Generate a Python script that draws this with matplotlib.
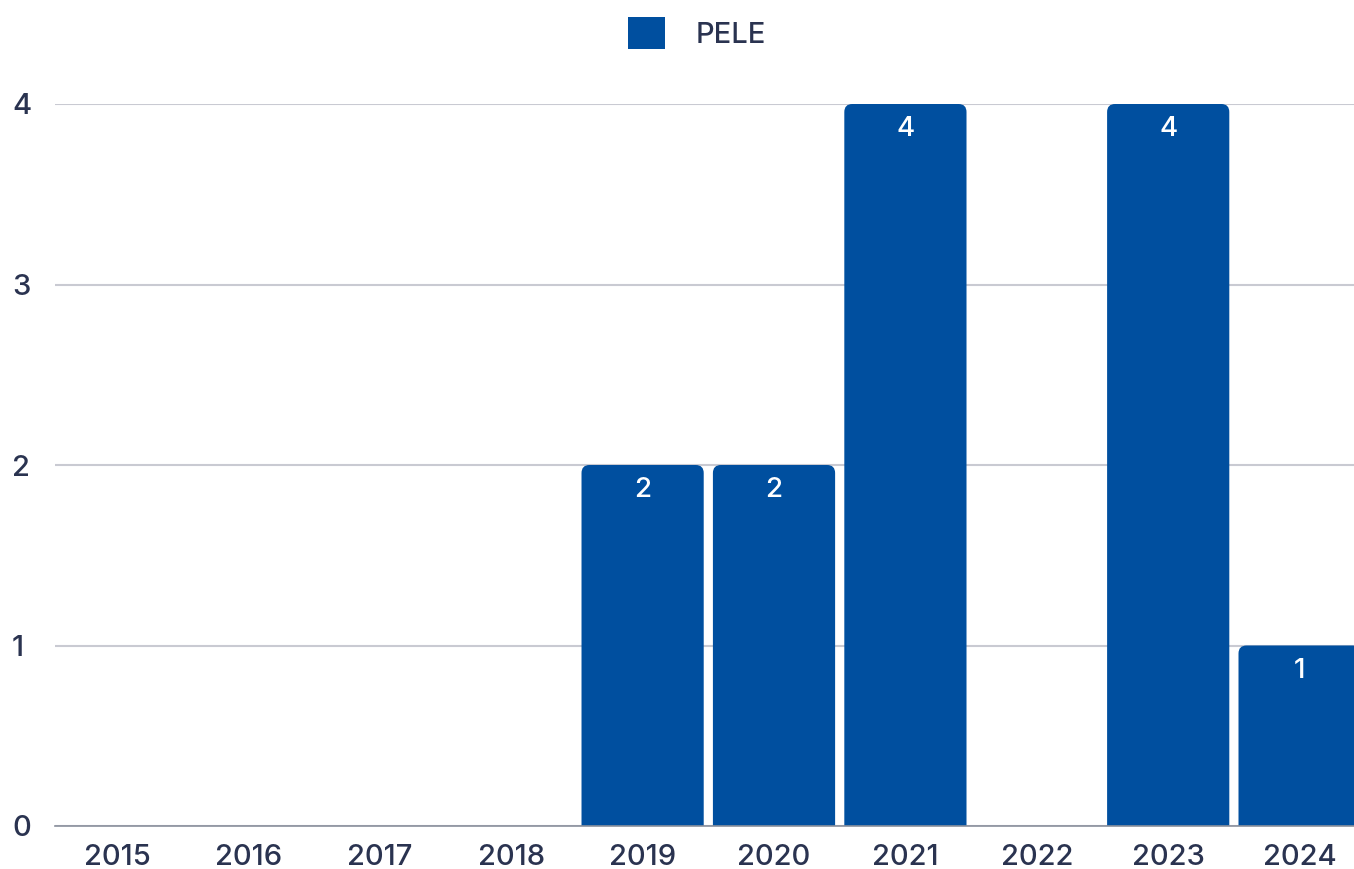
import matplotlib.pyplot as plt
from matplotlib.patches import FancyBboxPatch
import numpy as np

years = ['2015', '2016', '2017', '2018', '2019', '2020', '2021', '2022', '2023', '2024']
pele = [0, 0, 0, 0, 2, 2, 4, 0, 4, 1]
series_name = 'PELE'

bar_color = '#004f9f'
text_color = '#2a3350'
plt.rcParams['font.family'] = ['Inter', 'DejaVu Sans']

W, H = 1354, 869
fig = plt.figure(figsize=(W / 100, H / 100), dpi=100)
ax = fig.add_axes([55 / W, 43 / H, (W - 55) / W, (826 - 104) / H])

x = np.arange(len(years))
bars = ax.bar(x, pele, width=0.93, color=bar_color)

ax.set_xlim(-0.472, 9.414)
ax.set_ylim(0, 4)

# swap the plain rectangles for rounded-top ones
px_x = (W - 55) / (9.414 + 0.472)
px_y = (826 - 104) / 4
r = 8
for rect, v in zip(bars.patches, pele):
    rect.set_visible(False)
    if v <= 0:
        continue
    x0, w = rect.get_x(), rect.get_width()
    p = FancyBboxPatch((x0, -0.2), w, v + 0.2,
                       boxstyle=f"round,pad=0,rounding_size={r / px_x}",
                       mutation_aspect=(r / px_y) / (r / px_x),
                       facecolor=bar_color, edgecolor='none', zorder=3)
    ax.add_patch(p)
    ax.text(x0 + w / 2, v - 25 / px_y, str(v), color='white', fontsize=20,
            fontweight='medium', ha='center', va='center', zorder=4)

ax.set_yticks([0, 1, 2, 3, 4])
ax.grid(axis='y', color='#c9cad2', lw=1.5, zorder=0)
ax.set_axisbelow(True)
for s in ['top', 'right', 'left']:
    ax.spines[s].set_visible(False)
ax.spines['bottom'].set_color('#8a909c')
ax.spines['bottom'].set_linewidth(1.2)
ax.spines['bottom'].set_zorder(5)

ax.set_xticks(x)
ax.set_xticklabels(years)
ax.tick_params(axis='x', length=0, pad=13, labelsize=21, labelcolor=text_color)
ax.tick_params(axis='y', length=0, pad=0, labelsize=21, labelcolor=text_color)
for lbl in ax.get_xticklabels() + ax.get_yticklabels():
    lbl.set_fontweight('medium')
for lbl in ax.get_yticklabels():
    lbl.set_horizontalalignment('left')
    lbl.set_x(-43 / (W - 55))

leg = fig.legend([plt.Rectangle((0, 0), 1, 1, facecolor=bar_color)], [series_name],
                 loc='center', bbox_to_anchor=(697 / W, 1 - 33 / H),
                 frameon=False, fontsize=21, handlelength=1.3, handleheight=1.3,
                 handletextpad=1.05, borderpad=0)
for t in leg.get_texts():
    t.set_color(text_color)
    t.set_fontweight('medium')

fig.savefig('out.png', dpi=100)
